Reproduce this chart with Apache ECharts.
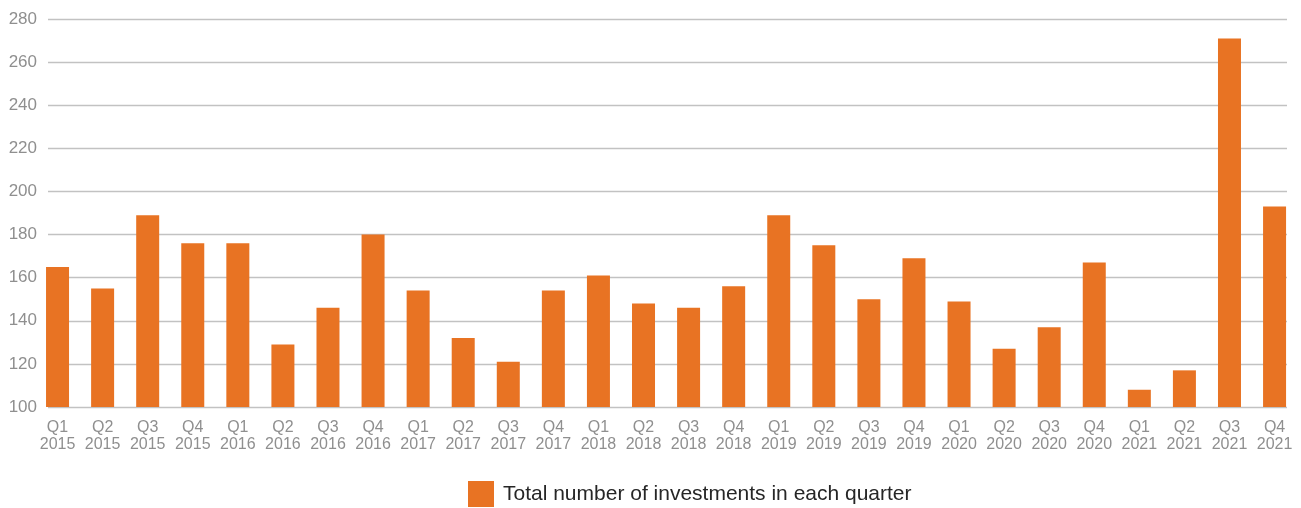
<!DOCTYPE html>
<html>
<head>
<meta charset="utf-8">
<script src="https://cdn.jsdelivr.net/npm/echarts@6/dist/echarts.min.js"></script>
<style>html,body{margin:0;padding:0;background:#fff}#c{width:1301px;height:508px}</style>
</head>
<body>
<div id="c"></div>
<script>
const quarters = ['Q1','Q2','Q3','Q4','Q1','Q2','Q3','Q4','Q1','Q2','Q3','Q4','Q1','Q2','Q3','Q4','Q1','Q2','Q3','Q4','Q1','Q2','Q3','Q4','Q1','Q2','Q3','Q4'];
const years = ['2015','2015','2015','2015','2016','2016','2016','2016','2017','2017','2017','2017','2018','2018','2018','2018','2019','2019','2019','2019','2020','2020','2020','2020','2021','2021','2021','2021'];
const investments = [165,155,189,176,176,129,146,180,154,132,121,154,161,148,146,156,189,175,150,169,149,127,137,167,108,117,271,193];
const seriesName = 'Total number of investments in each quarter';
const yMin = 100, yMax = 280, yStep = 20;

const categories = quarters.map((q, i) => q + '\n' + years[i]);
const FONT = '"Liberation Sans", Arial, sans-serif';
const chart = echarts.init(document.getElementById('c'), null, {renderer: 'canvas'});
chart.setOption({
  animation: false,
  backgroundColor: '#ffffff',
  grid: [
    {left: 35, right: 3.9, top: 19, bottom: 101},
    {left: 48, right: 14, top: 19, bottom: 101}
  ],
  legend: {
    data: [seriesName],
    left: 468, top: 481, padding: 0,
    itemWidth: 26, itemHeight: 26,
    icon: 'rect',
    textStyle: {fontFamily: FONT, fontSize: 21, color: '#262626', padding: [0, 0, 0, 4]}
  },
  xAxis: [
    {
      type: 'category', gridIndex: 0, data: categories,
      axisLine: {show: false}, axisTick: {show: false},
      axisLabel: {fontFamily: FONT, fontSize: 16, color: '#8f8f8f', lineHeight: 17, margin: 12, interval: 0}
    },
    {type: 'value', gridIndex: 1, min: 0, max: 1, show: false}
  ],
  yAxis: [
    {type: 'value', gridIndex: 0, min: yMin, max: yMax, interval: yStep, show: false, splitLine: {show: false}},
    {
      type: 'value', gridIndex: 1, min: yMin, max: yMax, interval: yStep,
      axisLine: {show: false}, axisTick: {show: false},
      axisLabel: {fontFamily: FONT, fontSize: 17, color: '#8f8f8f', margin: 11},
      splitLine: {show: true, lineStyle: {color: '#c2c2c2', width: 1.3}}
    }
  ],
  series: [{
    name: seriesName, type: 'bar', xAxisIndex: 0, yAxisIndex: 0,
    data: investments, barWidth: 23,
    itemStyle: {color: '#e87323'}
  }]
});
</script>
</body>
</html>
